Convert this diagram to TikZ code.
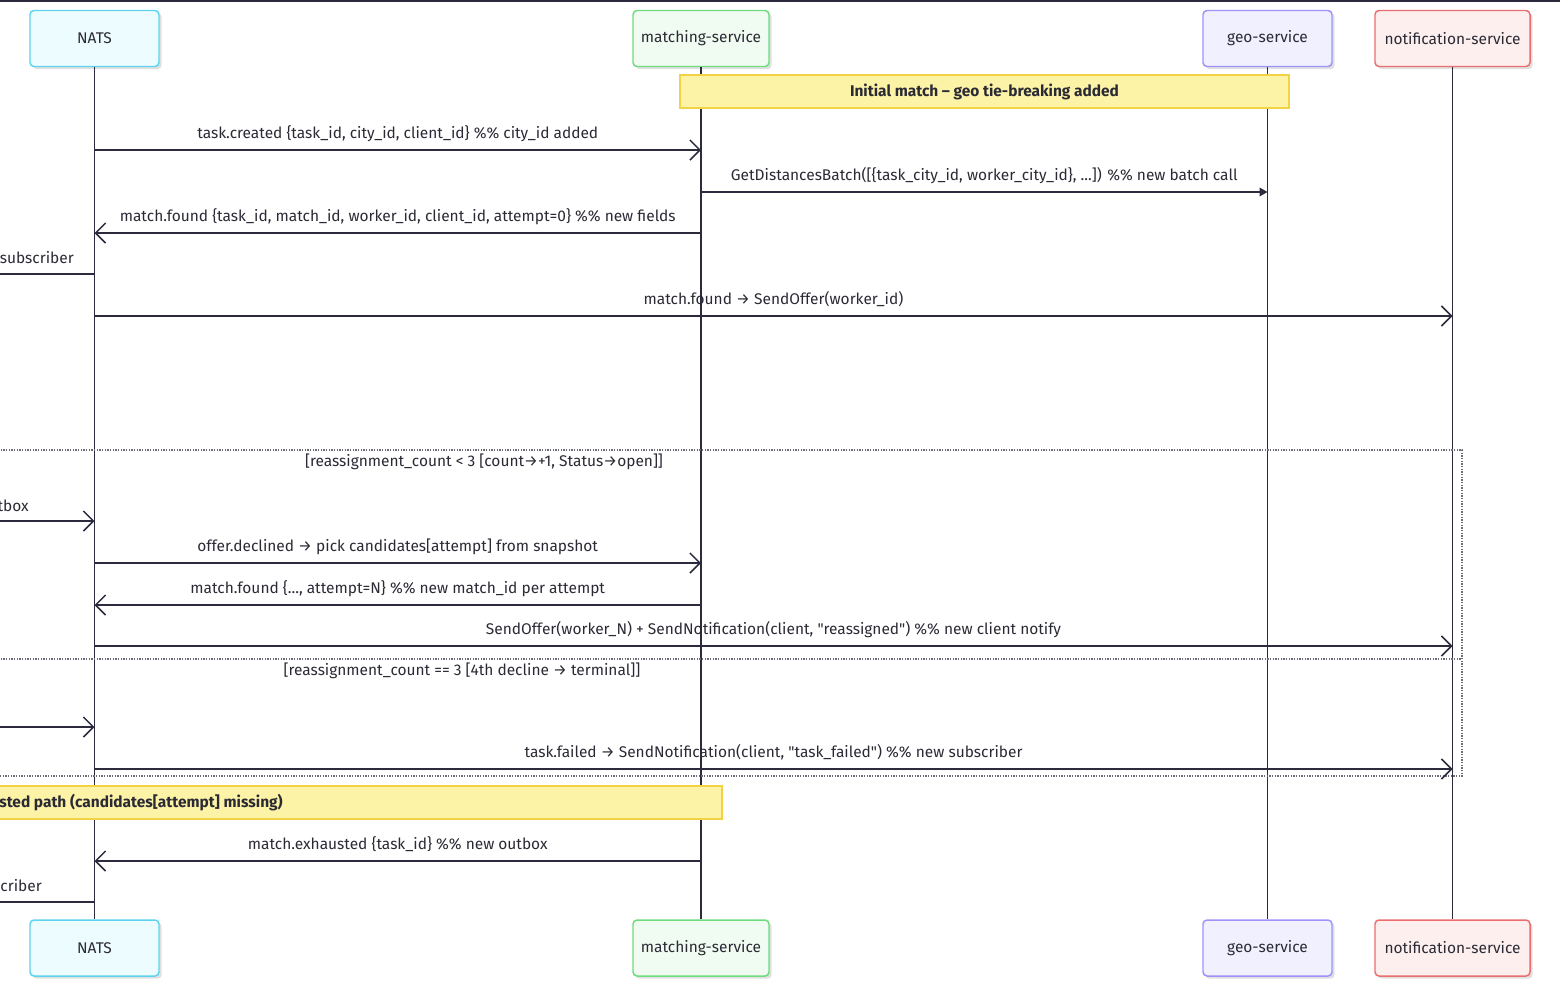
\documentclass[tikz,border=0pt]{standalone}
\usepackage{fontspec}
\setmainfont{Fira Sans}
\usetikzlibrary{arrows.meta}
\usetikzlibrary{shadows}
\usetikzlibrary{positioning}

\definecolor{ink}{HTML}{2B2B3D}
\definecolor{txt}{HTML}{2A2A35}
\definecolor{natsfill}{HTML}{EDFCFF}
\definecolor{natsdraw}{HTML}{5ED3EF}
\definecolor{matchfill}{HTML}{F0FCF1}
\definecolor{matchdraw}{HTML}{6EDB7C}
\definecolor{geofill}{HTML}{F1F0FF}
\definecolor{geodraw}{HTML}{9E91FA}
\definecolor{notiffill}{HTML}{FCEFEE}
\definecolor{notifdraw}{HTML}{EA6E6E}
\definecolor{notefill}{HTML}{FDF3A6}
\definecolor{notedraw}{HTML}{F3D345}

\newcommand{\qq}[1]{\textquotedbl#1\textquotedbl}

\begin{document}
\begin{tikzpicture}[
    % one unit = one pixel of the reference, y grows downwards
    x=0.75pt, y=-0.75pt,
    actor/.style={draw, rounded corners=3pt, line width=1.1pt, minimum height=42pt,
        inner sep=0pt, text=txt, font=\fontsize{11.6}{13}\selectfont,
        drop shadow={shadow xshift=2pt, shadow yshift=-2pt, opacity=0.12, fill=black}},
    lifeline/.style={draw=ink, line width=1.1pt},
    async/.style={draw=ink, line width=1.1pt, -{Straight Barb[length=7.5pt, width=15pt, line width=1.1pt]}},
    sync/.style={draw=ink, line width=1.1pt, -{Triangle[length=6pt, width=6.5pt]}},
    plain/.style={draw=ink, line width=1.1pt},
    msglabel/.style={anchor=base, yshift=8.5pt, inner sep=0pt, text=txt, font=\fontsize{11.6}{13}\selectfont},
    sidelabel/.style={anchor=base east, inner sep=0pt, text=txt, font=\fontsize{11.6}{13}\selectfont},
    note/.style={draw=notedraw, fill=notefill, line width=1.1pt, inner sep=0pt,
        text=txt, font=\bfseries\fontsize{11.6}{13}\selectfont},
    frame/.style={draw=ink!70, line width=0.8pt, dash pattern=on 1pt off 1pt},
    framelabel/.style={anchor=base, inner sep=0pt, text=txt, font=\fontsize{11.6}{13}\selectfont}
]

\useasboundingbox (0,0) rectangle (1560,1001);
\clip (0,0) rectangle (1560,1001);

% Top border
\draw[ink, line width=1.6pt] (0,0.5) -- (1560,0.5);

% Participants, top row
\node[actor, fill=natsfill, draw=natsdraw, minimum width=96.75pt] (nats) at (94.5,38.5) {NATS};
\node[actor, fill=matchfill, draw=matchdraw, minimum width=102pt] (match) at (701,38.5) {matching-service};
\node[actor, fill=geofill, draw=geodraw, minimum width=96.75pt] (geo) at (1267.5,38.5) {geo-service};
\node[actor, fill=notiffill, draw=notifdraw, minimum width=116.25pt] (notif) at (1452.5,38.5) {notification-service};

% Participants, bottom row
\node[actor, fill=natsfill, draw=natsdraw, minimum width=96.75pt] (natsB) at (94.5,948) {NATS};
\node[actor, fill=matchfill, draw=matchdraw, minimum width=102pt] (matchB) at (701,948) {matching-service};
\node[actor, fill=geofill, draw=geodraw, minimum width=96.75pt] (geoB) at (1267.5,948) {geo-service};
\node[actor, fill=notiffill, draw=notifdraw, minimum width=116.25pt] (notifB) at (1452.5,948) {notification-service};

% Participant left of the visible area
\coordinate (offL) at (-60,0);

% Lifelines
\draw[lifeline] (nats) -- (natsB);
\draw[lifeline] (match) -- (matchB);
\draw[lifeline] (geo) -- (geoB);
\draw[lifeline] (notif) -- (notifB);

% Initial match note
\node[note, minimum width=456.75pt, minimum height=24.75pt] (initnote) at (984.5,91.5)
    {Initial match -- geo tie-breaking added};

% Initial match messages
\draw[async] (nats |- 0,150) -- node[msglabel] {task.created \{task\_id, city\_id, client\_id\} \%\% city\_id added} (match |- 0,150);
\draw[sync] (match |- 0,192) -- node[msglabel] {GetDistancesBatch([\{task\_city\_id, worker\_city\_id\}, ...]) \%\% new batch call} (geo |- 0,192);
\draw[async] (match |- 0,233) -- node[msglabel] {match.found \{task\_id, match\_id, worker\_id, client\_id, attempt=0\} \%\% new fields} (nats |- 0,233);
\draw[plain] (nats |- 0,274) -- (offL |- 0,274);
\node[sidelabel] (sub1) at (74,263) {subscriber};
\draw[async] (nats |- 0,316) -- node[msglabel] {match.found → SendOffer(worker\_id)} (notif |- 0,316);

% Reassignment alternatives
\draw[frame] (-10,450) rectangle (1462,776);
\draw[frame] (-10,659) -- (1462,659);
\node[framelabel] (altA) at (484,466) {[reassignment\_count < 3 [count→+1, Status→open]]};
\node[framelabel] (altB) at (462,675) {[reassignment\_count == 3 [4th decline → terminal]]};

\draw[async] (offL |- 0,521) -- (nats |- 0,521);
\node[sidelabel] (outbox1) at (29,511) {tbox};
\draw[async] (nats |- 0,563) -- node[msglabel] {offer.declined → pick candidates[attempt] from snapshot} (match |- 0,563);
\draw[async] (match |- 0,605) -- node[msglabel] {match.found \{..., attempt=N\} \%\% new match\_id per attempt} (nats |- 0,605);
\draw[async] (nats |- 0,646) -- node[msglabel] {SendOffer(worker\_N) + SendNotification(client, \qq{reassigned}) \%\% new client notify} (notif |- 0,646);

\draw[async] (offL |- 0,727) -- (nats |- 0,727);
\draw[async] (nats |- 0,769) -- node[msglabel] {task.failed → SendNotification(client, \qq{task\_failed}) \%\% new subscriber} (notif |- 0,769);

% Exhausted path note
\draw[note] (-20,786) rectangle (722,819);
\node[sidelabel, font=\bfseries\fontsize{11.6}{13}\selectfont] (exhnote) at (283,807) {sted path (candidates[attempt] missing)};

\draw[async] (match |- 0,861) -- node[msglabel] {match.exhausted \{task\_id\} \%\% new outbox} (nats |- 0,861);
\draw[plain] (nats |- 0,902) -- (offL |- 0,902);
\node[sidelabel] (sub2) at (42,891) {criber};

\end{tikzpicture}
\end{document}
